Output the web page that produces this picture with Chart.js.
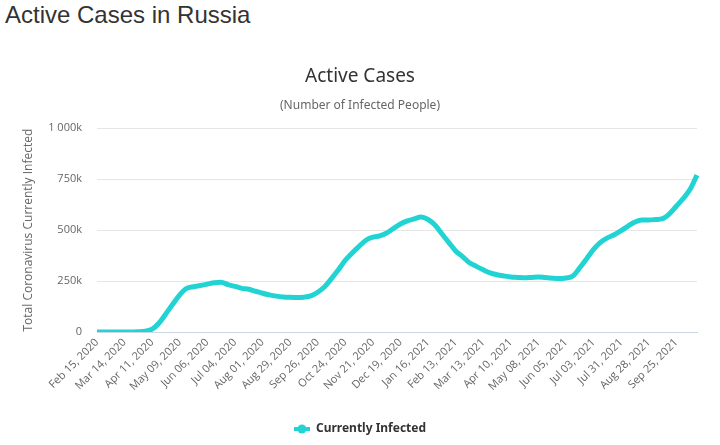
<!DOCTYPE html>
<html>
<head>
<meta charset="utf-8">
<script src="https://cdn.jsdelivr.net/npm/chart.js@4.4.0/dist/chart.umd.min.js"></script>
<style>
  html, body { margin: 0; padding: 0; background: #fff; }
  #wrap { position: relative; width: 720px; height: 445px; }
  h1 { position: absolute; left: 5px; top: 3px; margin: 0; font: 24px/1 "Liberation Sans", Arial, sans-serif; font-weight: normal; color: #333; }
  canvas { position: absolute; left: 0; top: 0; }
</style>
</head>
<body>
<div id="wrap">
  <h1>Active Cases in Russia</h1>
  <canvas id="graficoActivos" width="720" height="445"></canvas>
</div>
<script>
// weekly readings, first week = Feb 15, 2020
const startDate = new Date(2020, 1, 15);
const activeCases = [
  0, 0, 10, 40, 60, 300, 1000, 4000, 14000, 44000,
  90000, 137000, 182000, 214000, 222000, 228000, 235000, 242000, 244000, 232000,
  224000, 214000, 210000, 200000, 190000, 182000, 176000, 172000, 170000, 169000,
  171000, 177000, 195000, 222000, 262000, 305000, 352000, 388000, 420000, 450000,
  465000, 472000, 486000, 508000, 530000, 545000, 555000, 564000, 552000, 525000,
  482000, 440000, 398000, 370000, 340000, 322000, 305000, 290000, 281000, 275000,
  270000, 268000, 266000, 268000, 270000, 267000, 264000, 262000, 265000, 275000,
  315000, 360000, 405000, 440000, 462000, 477000, 497000, 520000, 540000, 550000,
  550000, 552000, 556000, 580000, 617000, 655000, 700000, 770000
];
// one label every 4 weeks
const tickLabels = [
  "Feb 15, 2020", "Mar 14, 2020", "Apr 11, 2020", "May 09, 2020", "Jun 06, 2020",
  "Jul 04, 2020", "Aug 01, 2020", "Aug 29, 2020", "Sep 26, 2020", "Oct 24, 2020",
  "Nov 21, 2020", "Dec 19, 2020", "Jan 16, 2021", "Feb 13, 2021", "Mar 13, 2021",
  "Apr 10, 2021", "May 08, 2021", "Jun 05, 2021", "Jul 03, 2021", "Jul 31, 2021",
  "Aug 28, 2021", "Sep 25, 2021"
];
const yTicks = [0, 250000, 500000, 750000, 1000000];

const meses = ["Jan","Feb","Mar","Apr","May","Jun","Jul","Aug","Sep","Oct","Nov","Dec"];
const semanas = activeCases.map((_, i) => {
  const d = new Date(startDate.getTime());
  d.setDate(d.getDate() + i * 7);
  return meses[d.getMonth()] + " " + String(d.getDate()).padStart(2, "0") + ", " + d.getFullYear();
});

const colorLinea = "#22d3d3";
const fuenteTitulo = "'Liberation Sans Narrow', 'Noto Sans', sans-serif";

// legend symbol: line with a dot
function simboloLeyenda() {
  const c = document.createElement("canvas");
  c.width = 16; c.height = 10;
  const g = c.getContext("2d");
  g.strokeStyle = colorLinea;
  g.lineWidth = 4;
  g.beginPath(); g.moveTo(0, 5); g.lineTo(16, 5); g.stroke();
  g.fillStyle = colorLinea;
  g.beginPath(); g.arc(8, 5, 4.5, 0, Math.PI * 2); g.fill();
  return c;
}

const ctx = document.getElementById("graficoActivos").getContext("2d");

new Chart(ctx, {
  type: "line",
  data: {
    labels: semanas,
    datasets: [{
      label: "Currently Infected",
      data: activeCases,
      borderColor: colorLinea,
      backgroundColor: colorLinea,
      borderWidth: 5,
      pointRadius: 0,
      cubicInterpolationMode: "monotone",
      fill: false
    }]
  },
  options: {
    responsive: false,
    animation: false,
    layout: { padding: { top: 65, right: 23, bottom: 0, left: 23 } },
    plugins: {
      title: {
        display: true,
        text: "Active Cases",
        color: "#333",
        font: { family: fuenteTitulo, size: 19, weight: "normal" },
        padding: { top: 0, bottom: 11 }
      },
      subtitle: {
        display: true,
        text: "(Number of Infected People)",
        color: "#666",
        font: { family: fuenteTitulo, size: 12 },
        padding: { top: 0, bottom: 15 }
      },
      legend: {
        position: "bottom",
        labels: {
          color: "#333",
          font: { family: fuenteTitulo, size: 12, weight: "bold" },
          usePointStyle: true,
          pointStyleWidth: 16,
          padding: 10,
          generateLabels: (chart) => [{
            text: "Currently Infected",
            fontColor: "#333",
            pointStyle: simboloLeyenda(),
            datasetIndex: 0,
            lineWidth: 0
          }]
        }
      },
      tooltip: { enabled: false }
    },
    scales: {
      x: {
        type: "category",
        offset: false,
        afterFit: (scale) => { scale.height = 81; },
        grid: { display: false, drawTicks: false },
        border: { display: true, color: "#ccd6eb", width: 1 },
        ticks: {
          autoSkip: false,
          minRotation: 45,
          maxRotation: 45,
          padding: 4,
          color: "#666",
          font: { family: "'Open Sans', sans-serif", size: 11 },
          callback: (val, index) => index % 4 === 0 ? tickLabels[index / 4] : null
        }
      },
      y: {
        min: 0,
        max: 1000000,
        afterFit: (scale) => { scale.width = 74; },
        afterBuildTicks: (scale) => { scale.ticks = yTicks.map(v => ({ value: v })); },
        grid: { color: "#e6e6e6", drawTicks: false },
        border: { display: false },
        ticks: {
          padding: 15,
          color: "#666",
          font: { family: "'Open Sans', sans-serif", size: 11 },
          callback: (v) => v === 0 ? "0" : (v === 1000000 ? "1 000k" : (v / 1000) + "k")
        },
        title: {
          display: true,
          text: "Total Coronavirus Currently Infected",
          color: "#666",
          font: { family: "'Open Sans', sans-serif", size: 12 },
          padding: { top: -2, bottom: 0 }
        }
      }
    }
  }
});
</script>
</body>
</html>
